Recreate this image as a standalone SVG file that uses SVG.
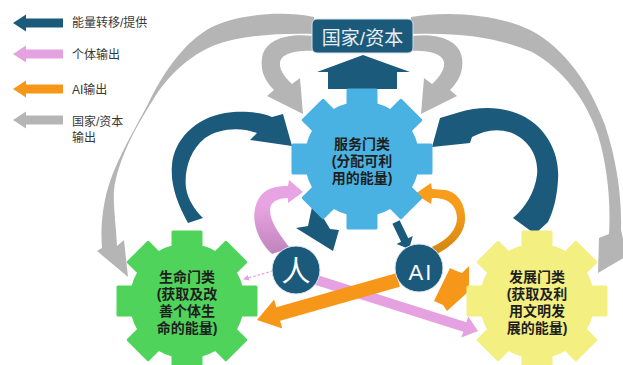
<svg xmlns="http://www.w3.org/2000/svg" width="623" height="365" viewBox="0 0 623 365">
<defs>
<style>
.dk{fill:#1c5a7c}
.gy{fill:#b5b5b5}
.pk{fill:#e6a2e0}
.or{fill:#f7971a}
.gt{font-family:"Liberation Sans","Noto Sans CJK SC",sans-serif;font-size:14px;font-weight:700;fill:#1e1e1e;text-anchor:middle}
.lg{font-family:"Liberation Sans","Noto Sans CJK SC",sans-serif;font-size:12px;fill:#383838}
</style>
<path id="gear" stroke-width="3" stroke-linejoin="round" d="M-14,-54.22 L-14,-69 L14,-69 L14,-54.22 A56,56 0 0 1 28.44,-48.24 L38.89,-58.69 L58.69,-38.89 L48.24,-28.44 A56,56 0 0 1 54.22,-14 L69,-14 L69,14 L54.22,14 A56,56 0 0 1 48.24,28.44 L58.69,38.89 L38.89,58.69 L28.44,48.24 A56,56 0 0 1 14,54.22 L14,69 L-14,69 L-14,54.22 A56,56 0 0 1 -28.44,48.24 L-38.89,58.69 L-58.69,38.89 L-48.24,28.44 A56,56 0 0 1 -54.22,14 L-69,14 L-69,-14 L-54.22,-14 A56,56 0 0 1 -48.24,-28.44 L-58.69,-38.89 L-38.89,-58.69 L-28.44,-48.24 A56,56 0 0 1 -14,-54.22 Z"/>
<path id="larr" d="M13,0 L26,-8.5 L26,-4.5 L63,-4.5 L63,4.5 L26,4.5 L26,8.5 Z"/>
<linearGradient id="pkg" x1="0" y1="0" x2="0" y2="1"><stop offset="0.35" stop-color="#e8a4e2"/><stop offset="1" stop-color="#bf84bc"/></linearGradient>
<linearGradient id="org" x1="0" y1="0" x2="0" y2="1"><stop offset="0.35" stop-color="#f89c1c"/><stop offset="1" stop-color="#d3860f"/></linearGradient>
<marker id="pm" markerWidth="6" markerHeight="6" refX="5" refY="3" orient="auto" markerUnits="userSpaceOnUse"><path d="M0,0 L6,3 L0,6 Z" fill="#e6a2e0"/></marker>
</defs>
<rect width="623" height="365" fill="#ffffff"/>

<g id="legend">
<use href="#larr" class="dk" transform="translate(0,23)"/>
<use href="#larr" class="pk" transform="translate(0,54)"/>
<use href="#larr" class="or" transform="translate(0,89)"/>
<use href="#larr" class="gy" transform="translate(0,120)"/>
<text class="lg" x="72" y="27">能量转移/提供</text>
<text class="lg" x="72" y="58.5">个体输出</text>
<text class="lg" x="72" y="93.5">AI输出</text>
<text class="lg" x="72" y="125.5">国家/资本</text>
<text class="lg" x="72" y="141.5">输出</text>
</g>

<g id="connectors">
<!-- gray outer arcs -->
<path class="gy" d="M314,17 C280,10 235,15 210,28 C185,42 165,70 150,100 C135,130 112,165 105,200 C101,220 101,235 102,248 L97,251 L128,277 L124,240 L117,246 C116,225 113,205 114,190 C118,160 135,128 153,100 C168,75 190,55 215,45 C240,36 275,33 314,34 Z"/>
<path class="gy" d="M411,17 C450,10 500,15 530,30 C565,48 590,85 605,125 C616,158 622,195 621,230 L627,256 L598,273 L599,238 L609,234 C611,200 607,165 598,135 C586,100 564,70 532,52 C500,38 460,32 411,34 Z"/>
<!-- gray inner arrows -->
<path class="gy" d="M313,36 C290,33 265,38 262,58 C260,72 266,82 274,90 L267,96 L303,114 L300,78 L292,84 C283,76 279,68 280,62 C282,53 297,50 313,51 Z"/>
<path class="gy" d="M411,36 C434,33 459,38 462,58 C464,72 458,82 450,90 L457,96 L421,114 L424,78 L432,84 C441,76 445,68 444,62 C442,53 427,50 411,51 Z"/>
<!-- up arrow to box -->
<path class="dk" d="M363,55 L410,72 L397,72 L397,89 L328,89 L328,72 L317,72 Z"/>
<!-- down arrows from service gear -->
<path class="dk" d="M312,207 L324,219 L330,229 L339,230 L333,251 L296,228 L308,226 Z"/>
<path class="dk" d="M392.4,223.7 L399.6,220.3 L408.3,238.3 L412.8,236.1 L409,249 L396.6,243.9 L401.1,241.7 Z"/>
<!-- dark curved arrows -->
<path class="dk" d="M188,223 C178,205 170,185 172,165 C174,140 195,118 225,113 C245,110 262,113 272,117 L283,114 L292,146 L250,140 L257,133 C240,127 220,128 205,138 C190,150 184,170 186,188 C188,200 195,210 203,218 Z"/>
<path class="dk" d="M460,112 C480,106 505,106 525,117 C548,130 560,155 558,180 C557,198 553,212 548,222 L535,234 L513,218 C525,208 535,192 537,175 C539,155 528,140 512,133 C498,128 485,130 472,137 L470,143 L432,147 L440,118 Z"/>
<!-- pink -->
<path fill="url(#pkg)" d="M272,254 C255,238 250,215 258,200 C264,188 276,186 288,186 L289,180 L303,192 L288,203 L288,198 C278,198 270,202 270,210 C270,222 280,235 290,248 Z"/>
<path class="pk" d="M311.6,273.2 L466.4,322.2 L468.2,316.5 L478,331 L461.4,337.5 L463.3,331.8 L308.5,282.8 Z"/>
<line x1="273" y1="271" x2="244" y2="279" stroke="#e6a2e0" stroke-width="1.3" stroke-dasharray="2.5 2" marker-end="url(#pm)"/>
<!-- orange -->
<path fill="url(#org)" d="M437,254 C452,246 464,235 465,220 C466,205 458,192 445,190 L432,189 L431,183 L415,194 L431,204 L432,198 C448,197 457,206 457,218 C457,230 447,240 432,247 Z"/>
<path class="or" d="M396.1,273.3 L276.3,307.3 L274.1,299.6 L257,320 L282.3,328.4 L280.1,320.7 L399.9,286.7 Z"/>
<path class="or" d="M434,301 L450,268 L454,270 L462,273 L469,266 L469,291 L447,311 L443,305 Z"/>
</g>

<g id="service" fill="#4ab2e3" stroke="#4ab2e3">
<use href="#gear" transform="translate(362,159)"/>
<text class="gt" stroke="none" x="362" y="149">服务门类</text>
<text class="gt" stroke="none" x="362" y="166">(分配可利</text>
<text class="gt" stroke="none" x="362" y="183">用的能量)</text>
</g>

<g id="life" fill="#4fd35a" stroke="#4fd35a">
<use href="#gear" transform="translate(187,301)"/>
<text class="gt" stroke="none" x="187" y="282">生命门类</text>
<text class="gt" stroke="none" x="187" y="299">(获取及改</text>
<text class="gt" stroke="none" x="187" y="316">善个体生</text>
<text class="gt" stroke="none" x="187" y="333">命的能量)</text>
</g>

<g id="development" fill="#f3ef80" stroke="#f3ef80">
<use href="#gear" transform="translate(537,301)"/>
<text class="gt" stroke="none" x="537" y="282">发展门类</text>
<text class="gt" stroke="none" x="537" y="299">(获取及利</text>
<text class="gt" stroke="none" x="537" y="316">用文明发</text>
<text class="gt" stroke="none" x="537" y="333">展的能量)</text>
</g>

<g id="state-capital">
<rect x="312" y="19" width="101" height="34" rx="5" fill="#1c5a7c" stroke="#d3e2eb" stroke-width="1"/>
<text x="362.5" y="44.5" font-family="Liberation Sans, Noto Sans CJK SC, sans-serif" font-size="19" fill="#e6eef4" text-anchor="middle">国家/资本</text>
</g>

<g id="person">
<circle cx="296" cy="270" r="24" fill="#1c5a7c" stroke="#dfe9f0" stroke-width="1"/>
<text x="296" y="282" font-family="Liberation Sans, Noto Sans CJK SC, sans-serif" font-size="29" fill="#ffffff" text-anchor="middle">人</text>
</g>

<g id="ai">
<circle cx="419" cy="268" r="24" fill="#1c5a7c" stroke="#dfe9f0" stroke-width="1"/>
<text x="421" y="280" font-family="Liberation Sans, Arial, sans-serif" font-size="22" fill="#ffffff" text-anchor="middle" letter-spacing="2">AI</text>
</g>
</svg>
